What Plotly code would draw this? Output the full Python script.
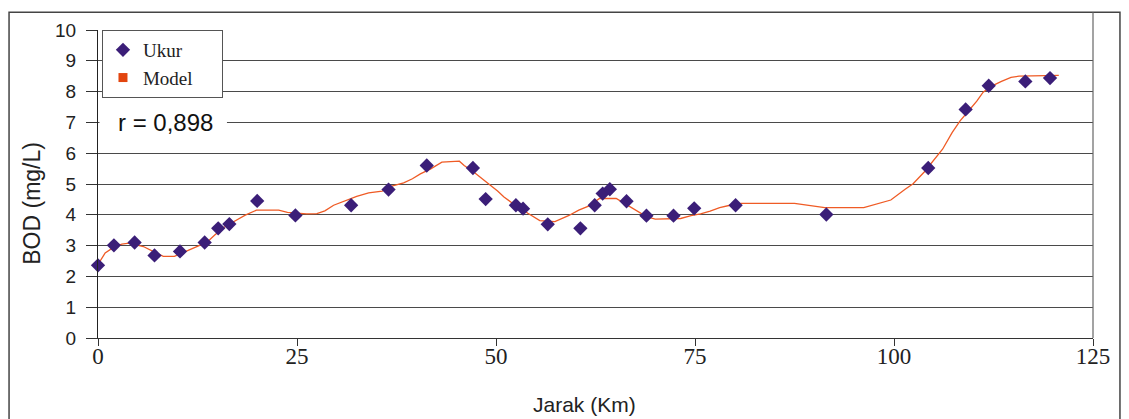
import plotly.graph_objects as go

# Measured data (Ukur)
ukur_km = [0, 2.0, 4.6, 7.1, 10.3, 13.4, 15.1, 16.5, 20.0, 24.8, 31.8, 36.5, 41.3, 47.1, 48.7,
           52.5, 53.4, 56.5, 60.6, 62.4, 63.4, 64.3, 66.4, 68.9, 72.3, 74.9, 80.1, 91.5,
           104.3, 109.0, 111.9, 116.5, 119.6]
ukur_bod = [2.36, 3.01, 3.10, 2.68, 2.81, 3.10, 3.56, 3.70, 4.45, 3.98, 4.31, 4.82, 5.60, 5.52, 4.51,
            4.31, 4.20, 3.69, 3.56, 4.31, 4.69, 4.83, 4.44, 3.97, 3.97, 4.21, 4.31, 4.01,
            5.52, 7.42, 8.19, 8.33, 8.44]

# Model curve
model_km = [0, 0.9, 2.0, 3.0, 3.9, 5.7, 7.1, 8.2, 9.6, 11.0, 12.6, 13.7, 14.7, 15.8, 17.2, 18.5, 19.9,
            22.7, 23.8, 26.2, 27.5, 28.5, 29.6, 31.3, 32.5, 34.0, 35.7, 36.9, 38.4, 39.5, 40.5,
            41.8, 43.2, 45.4, 46.0, 47.2, 48.3, 49.3, 50.2, 51.0, 52.1, 53.0, 54.0, 55.5, 57.4,
            59.1, 60.4, 61.7, 63.0, 65.1, 65.9, 67.2, 68.9, 70.0, 73.2, 74.5, 75.7, 76.9, 78.1,
            79.4, 80.8, 87.5, 89.5, 91.3, 96.2, 97.6, 99.6, 101.4, 102.4, 103.8, 105.1, 106.1,
            107.3, 108.3, 109.2, 110.4, 111.2, 112.2, 113.5, 114.7, 115.7, 120.7]
model_bod = [2.39, 2.76, 2.95, 3.05, 3.08, 2.97, 2.79, 2.65, 2.65, 2.81, 2.97, 3.11, 3.35, 3.59, 3.80,
             3.99, 4.15, 4.15, 4.08, 4.03, 4.04, 4.13, 4.31, 4.48, 4.60, 4.71, 4.77, 4.93, 5.04,
             5.17, 5.33, 5.49, 5.71, 5.74, 5.60, 5.39, 5.17, 4.96, 4.77, 4.58, 4.37, 4.23, 4.05,
             3.81, 3.78, 3.97, 4.15, 4.29, 4.53, 4.53, 4.40, 4.21, 3.94, 3.86, 3.88, 3.97, 4.03,
             4.12, 4.23, 4.31, 4.37, 4.37, 4.29, 4.23, 4.23, 4.33, 4.48, 4.83, 5.01, 5.39, 5.81,
             6.13, 6.67, 7.05, 7.32, 7.69, 7.98, 8.17, 8.33, 8.46, 8.50, 8.53]

x_ticks = [0, 25, 50, 75, 100, 125]
y_ticks = [0, 1, 2, 3, 4, 5, 6, 7, 8, 9, 10]

MARKER = "#3B1E78"
LINE = "#EF5B25"
SQUARE = "#E2450F"
PAD = "\u00a0" * 5

fig = go.Figure()
fig.add_trace(go.Scatter(x=model_km, y=model_bod, mode="lines", name="Model",
                         line=dict(color=LINE, width=1.3), showlegend=False, cliponaxis=False))
fig.add_trace(go.Scatter(x=ukur_km, y=ukur_bod, mode="markers", name="Ukur",
                         marker=dict(symbol="diamond", size=11, color=MARKER, line=dict(width=0)),
                         cliponaxis=False, legendrank=1))
fig.add_trace(go.Scatter(x=[None], y=[None], mode="markers", name="Model" + PAD,
                         marker=dict(symbol="square", size=9, color=SQUARE), legendrank=2))

# page has an 8px body margin, so the figure is sized/margined to land the plot area
# at the reference position
fig.update_layout(
    width=1121, height=411,
    margin=dict(l=90, r=36, t=19, b=81),
    paper_bgcolor="white", plot_bgcolor="white",
    showlegend=True,
    legend=dict(x=0.004, y=1.0, xanchor="left", yanchor="top",
                bgcolor="white", bordercolor="#555", borderwidth=1,
                font=dict(family="Liberation Serif", size=19, color="#222"),
                tracegroupgap=0, itemwidth=30),
    xaxis=dict(range=[0, 125], tickvals=x_ticks, ticktext=[str(v) for v in x_ticks],
               showgrid=False, zeroline=False, showline=True, linecolor="#333", linewidth=1,
               ticks="outside", ticklen=7, tickcolor="#333", ticklabelstandoff=-10,
               tickfont=dict(family="Liberation Serif", size=23, color="#222")),
    yaxis=dict(range=[0, 10], tickvals=y_ticks, showgrid=True, gridcolor="#4a4a4a", gridwidth=1,
               zeroline=False, showline=True, linecolor="#222", linewidth=1,
               ticks="outside", ticklen=11, tickcolor="#333", ticklabelstandoff=6,
               tickfont=dict(family="Liberation Sans", size=19, color="#222")),
)

fig.update_layout(
    shapes=[
        dict(type="rect", xref="paper", yref="paper", x0=-0.0894, x1=1.0271, y0=-0.4, y1=1.058,
             line=dict(color="#444", width=1.5), fillcolor="rgba(0,0,0,0)", layer="above"),
        dict(type="line", xref="paper", yref="paper", x0=1, x1=1, y0=0, y1=1.058,
             line=dict(color="#666", width=1.2), layer="above"),
        dict(type="rect", xref="paper", yref="y", x0=0.0015, x1=0.1296, y0=6.8, y1=7.2,
             line=dict(width=0), fillcolor="white", layer="above"),
    ],
    annotations=[
        dict(text="r = 0,898", xref="paper", yref="y", x=0.018, y=7, xanchor="left", yanchor="middle",
             showarrow=False, font=dict(family="Liberation Sans", size=24, color="#111")),
        dict(text="BOD (mg/L)", xref="paper", yref="paper", x=-0.066, y=0.437, textangle=-90,
             xanchor="center", yanchor="middle", showarrow=False,
             font=dict(family="Liberation Sans", size=23, color="#222")),
        dict(text="Jarak (Km)", xref="paper", yref="paper", x=0.489, y=-0.215,
             xanchor="center", yanchor="middle", showarrow=False,
             font=dict(family="Liberation Sans", size=21, color="#222")),
    ],
)

fig.write_html("out.html")
